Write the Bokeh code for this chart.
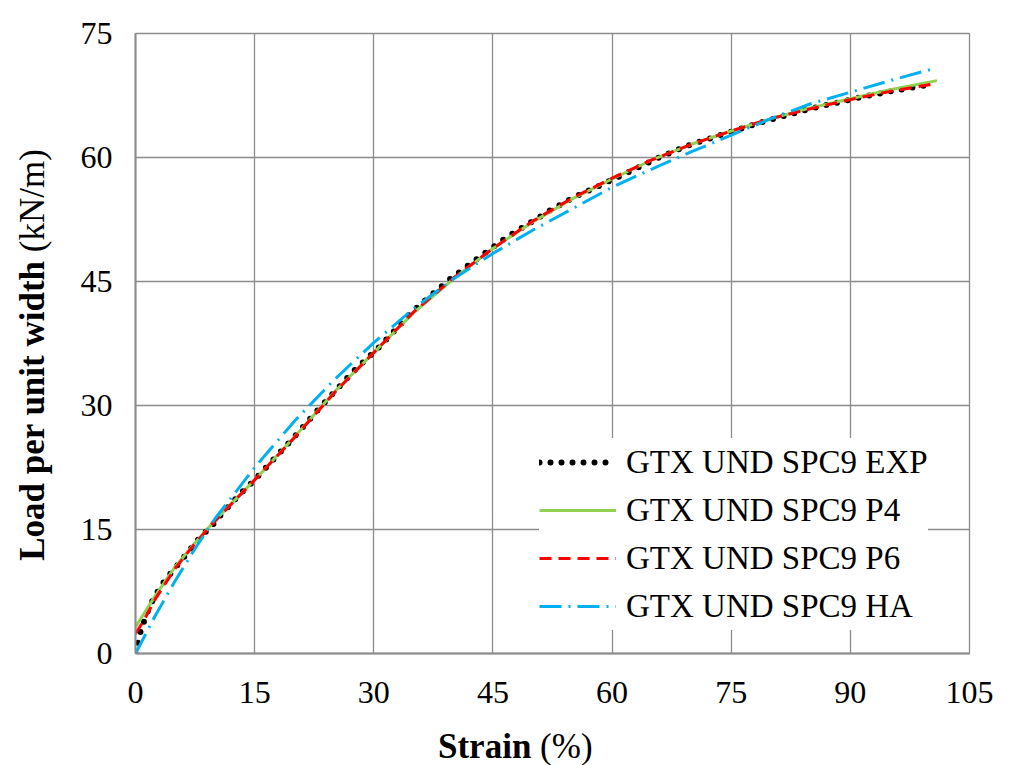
from bokeh.plotting import figure
from bokeh.models import Range1d, FixedTicker, Div
from bokeh.layouts import row, column
from bokeh.embed import file_html
from bokeh.resources import INLINE

# ---- data ----
exp_x = [0, 0.5, 1.0, 1.5, 2.1, 2.9, 3.8, 4.8, 5.8, 6.8, 7.8, 8.6, 9.6, 10.4, 12.6, 13.7, 14.8,
         17.5, 20, 22.9, 25, 27.5, 30.4, 35, 39.6, 44.5, 46.8, 52.2, 55, 59.8, 66.1, 70, 76.9,
         80, 85, 90.4, 95, 100.5]
exp_y = [0, 2.2, 3.7, 5.0, 6.3, 7.7, 9.0, 10.1, 11.3, 12.5, 13.7, 14.5, 15.4, 16.4, 18.7, 19.8, 20.8,
         23.6, 26.2, 29.4, 31.6, 34.2, 36.8, 41.5, 45.3, 48.8, 50.4, 53.6, 55.1, 57.2, 60.1, 61.6, 63.7,
         64.6, 65.9, 67.1, 68.0, 68.9]

p4_x = [0, 2.5, 5, 7.5, 10, 15, 20, 25, 30, 35, 40, 45, 50, 55, 60, 65, 70, 75, 80, 85, 90, 95, 100.9]
p4_y = [3.2, 7.0, 10.5, 13.4, 16.1, 21.0, 26.2, 31.6, 36.4, 41.2, 45.3, 49.0, 52.2, 55.0, 57.4, 59.7,
        61.6, 63.2, 64.7, 66.0, 67.1, 68.2, 69.3]

p6_x = [0, 1, 2.5, 5, 7.5, 10, 15, 20, 25, 30, 35, 40, 45, 50, 55, 60, 65, 70, 75, 80, 85, 90, 95, 100.5]
p6_y = [2.4, 3.9, 6.6, 10.3, 13.3, 16.0, 21.0, 26.1, 31.5, 36.4, 41.3, 45.4, 49.0, 52.3, 55.1, 57.5,
        59.7, 61.6, 63.2, 64.7, 65.9, 67.0, 68.0, 68.9]

ha_x = [0, 2.5, 5, 7.5, 10, 15, 20, 25, 30, 35, 40, 45, 50, 55, 60, 65, 70, 75, 80, 85, 90, 95, 100.3]
ha_y = [0, 4.6, 8.8, 12.7, 16.3, 22.5, 28.1, 33.1, 37.6, 41.7, 45.3, 48.4, 51.2, 53.8, 56.4, 58.6,
        60.7, 62.7, 64.7, 66.5, 67.9, 69.3, 70.7]

series_names = ["GTX UND SPC9 EXP", "GTX UND SPC9 P4", "GTX UND SPC9 P6", "GTX UND SPC9 HA"]
x_ticks = [0, 15, 30, 45, 60, 75, 90, 105]
y_ticks = [0, 15, 30, 45, 60, 75]
x_title_bold, x_title_rest = "Strain", "(%)"
y_title_bold, y_title_rest = "Load per unit width", "(kN/m)"

FONT = "Liberation Serif"
GRID = "#8c8c8c"

p = figure(width=947, height=718, output_backend="svg", toolbar_location=None,
           x_range=Range1d(0, 105), y_range=Range1d(0, 75),
           min_border_left=75, min_border_right=38, min_border_top=33, min_border_bottom=65)
p.background_fill_color = "white"
p.border_fill_color = "white"
p.outline_line_color = GRID
p.outline_line_width = 1.3

p.line(exp_x, exp_y, line_color="black", line_width=6, line_dash="0 11", line_cap="round",
       legend_label=series_names[0])
p.line(p4_x, p4_y, line_color="#92D050", line_width=3, legend_label=series_names[1])
p.line(p6_x, p6_y, line_color="#FF0000", line_width=3, line_dash="12 7", legend_label=series_names[2])
p.line(ha_x, ha_y, line_color="#00B0F0", line_width=3, line_dash="22 7 2 7", legend_label=series_names[3])

for ax, ticks in ((p.xaxis, x_ticks), (p.yaxis, y_ticks)):
    ax.ticker = FixedTicker(ticks=ticks)
    ax.major_tick_out = 0
    ax.major_tick_in = 0
    ax.minor_tick_out = 0
    ax.minor_tick_in = 0
    ax.axis_line_color = GRID
    ax.axis_line_width = 2
    ax.major_label_text_font = FONT
    ax.major_label_text_font_size = "32px"
    ax.major_label_text_color = "black"
p.xaxis.major_label_standoff = 28
p.yaxis.major_label_standoff = 23

p.xgrid.ticker = FixedTicker(ticks=x_ticks)
p.ygrid.ticker = FixedTicker(ticks=y_ticks)
for g in (p.xgrid, p.ygrid):
    g.grid_line_color = GRID
    g.grid_line_width = 1.3

lg = p.legend[0]
lg.location = (404, 23)
lg.margin = 0
lg.padding = 2
lg.spacing = 0
lg.border_line_color = None
lg.background_fill_color = "white"
lg.background_fill_alpha = 1.0
lg.label_text_font = FONT
lg.label_text_font_size = "33px"
lg.label_text_color = "black"
lg.label_height = 48
lg.glyph_height = 48
lg.glyph_width = 77
lg.label_standoff = 10

ydiv = Div(
    text=(f'<div style="position:absolute; left:33px; top:355px; '
          f'transform: translate(-50%,-50%) rotate(-90deg); white-space:nowrap; '
          f'font-family:\'{FONT}\'; font-size:35px; line-height:40px; color:black;">'
          f'<b>{y_title_bold}</b> {y_title_rest}</div>'),
    width=60, height=718, margin=0)
xdiv = Div(
    text=(f'<div style="position:absolute; left:378px; top:4px; white-space:nowrap; '
          f'font-family:\'{FONT}\'; font-size:35px; color:black;">'
          f'<b>{x_title_bold}</b> {x_title_rest}</div>'),
    width=947, height=44, margin=0)

layout = row(ydiv, column(p, xdiv, spacing=0), spacing=0)

open("out.html", "w").write(file_html(layout, INLINE))
